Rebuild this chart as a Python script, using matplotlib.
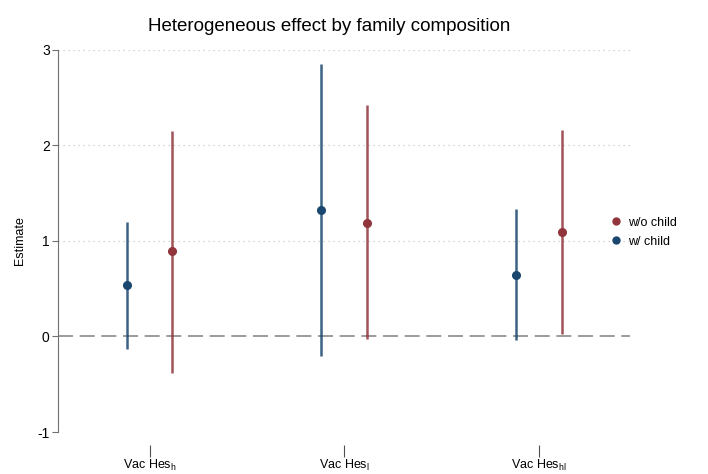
import numpy as np
import matplotlib
matplotlib.use("Agg")
import matplotlib.pyplot as plt
from matplotlib.lines import Line2D

plt.rcParams['font.family'] = ['Liberation Sans', 'DejaVu Sans']
plt.rcParams['mathtext.fontset'] = 'custom'
plt.rcParams['mathtext.rm'] = 'Liberation Sans'
plt.rcParams['mathtext.it'] = 'Liberation Sans'
plt.rcParams['axes.unicode_minus'] = False

# estimates and 95% CI per outcome
labels = ["Vac Hes$_\\mathrm{h}$", "Vac Hes$_\\mathrm{l}$", "Vac Hes$_\\mathrm{hl}$"]
wo_est = [0.89, 1.19, 1.095]
wo_lo = [-0.38, -0.03, 0.03]
wo_hi = [2.15, 2.42, 2.16]
w_est = [0.535, 1.32, 0.645]
w_lo = [-0.135, -0.20, -0.04]
w_hi = [1.20, 2.85, 1.33]

blue = "#1a476f"
red = "#90353b"

fig = plt.figure(figsize=(7.08, 4.74), dpi=100)
ax = fig.add_axes([0.082, 0.0886, 0.808, 0.806])

x = np.arange(1, len(labels) + 1)
off = 0.118

# gridlines and zero line
for g in [1, 2, 3]:
    ax.axhline(g, color="#c8c8c8", lw=0.9, ls=(0, (1, 3)), zorder=0)
ax.axhline(0, color="#8a8a8a", lw=1.2, ls=(0, (9, 4)), zorder=1)

ax.vlines(x - off, w_lo, w_hi, color=blue, lw=1.8, alpha=0.85, clip_on=False)
ax.plot(x - off, w_est, "o", color=blue, ms=5.5, clip_on=False)
ax.vlines(x + off, wo_lo, wo_hi, color=red, lw=1.8, alpha=0.85, clip_on=False)
ax.plot(x + off, wo_est, "o", color=red, ms=5.5, clip_on=False)

ax.set_xlim(0.53, 3.47)
ax.set_ylim(-1, 3)
ax.set_yticks([-1, 0, 1, 2, 3])
ax.set_xticks(x)
ax.set_xticklabels(labels)
ax.tick_params(axis="y", labelsize=10, length=4, color="#707070", pad=2)
ax.tick_params(axis="x", labelsize=9, length=8.5, color="#505050", pad=1)

for s in ["top", "right"]:
    ax.spines[s].set_visible(False)
ax.spines["left"].set_color("#707070")
ax.spines["bottom"].set_position(("outward", 9.5))
ax.spines["bottom"].set_visible(False)

ax.set_ylabel("Estimate", fontsize=9, labelpad=8)

fig.text(0.465, 0.945, "Heterogeneous effect by family composition",
         ha="center", va="center", fontsize=13.5)

handles = [Line2D([], [], marker="o", ls="", color=red, ms=5),
           Line2D([], [], marker="o", ls="", color=blue, ms=5)]
fig.legend(handles, ["w/o child", "w/ child"], loc="center left",
           bbox_to_anchor=(0.836, 0.51), frameon=False, fontsize=9,
           handletextpad=0.0, labelspacing=0.55)

fig.savefig("out.png", dpi=100)
